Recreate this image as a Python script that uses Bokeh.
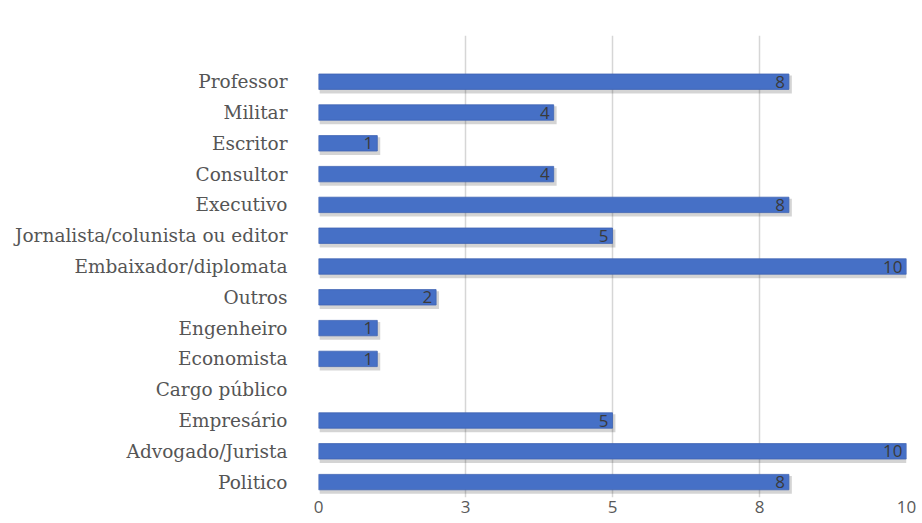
from bokeh.plotting import figure
from bokeh.models import ColumnDataSource, FactorRange, FixedTicker
from bokeh.transform import dodge
from bokeh.core.properties import value
from bokeh.embed import file_html
from bokeh.resources import INLINE

categories = ["Professor", "Militar", "Escritor", "Consultor", "Executivo",
              "Jornalista/colunista ou editor", "Embaixador/diplomata", "Outros",
              "Engenheiro", "Economista", "Cargo público", "Empresário",
              "Advogado/Jurista", "Politico"]
values = [8, 4, 1, 4, 8, 5, 10, 2, 1, 1, 0, 5, 10, 8]
tick_values = [0, 2.5, 5, 7.5, 10]
tick_labels = ["0", "3", "5", "8", "10"]

labels = [str(v) if v > 0 else "" for v in values]
src = ColumnDataSource(dict(cat=[c for c, v in zip(categories, values) if v > 0],
                            val=[v for v in values if v > 0],
                            lab=[l for l in labels if l]))

factors = list(reversed(categories)) + [" "]

p = figure(width=920, height=522, y_range=FactorRange(factors=factors),
           x_range=(0, 10), output_backend="svg", toolbar_location=None,
           min_border_left=318, min_border_right=14, min_border_top=35,
           min_border_bottom=25)
p.outline_line_color = None
p.background_fill_color = "white"

# shadow
p.hbar(y=dodge("cat", -0.09, range=p.y_range), right=dodge("val", 0.05, range=p.x_range),
       left=0.02, height=0.58, source=src, fill_color="#000000", fill_alpha=0.17,
       line_color=None)
p.hbar(y="cat", right="val", left=0, height=0.5, source=src,
       fill_color="#4670c6", line_color="#3f63b3", line_width=0.8)

p.text(x="val", y="cat", text="lab", source=src, text_align="right",
       text_baseline="middle", x_offset=-4, text_font=value("Open Sans"),
       text_font_size="17px", text_color="#3a3a3a")

p.xaxis.ticker = FixedTicker(ticks=tick_values)
p.xaxis.major_label_overrides = {t: l for t, l in zip(tick_values, tick_labels)}
p.xaxis.axis_line_color = None
p.xaxis.major_tick_line_color = None
p.xaxis.minor_tick_line_color = None
p.xaxis.major_tick_out = 0
p.xaxis.major_tick_in = 0
p.xaxis.major_label_standoff = 3
p.xaxis.major_label_text_font = "Open Sans"
p.xaxis.major_label_text_font_size = "17px"
p.xaxis.major_label_text_color = "#595959"

p.yaxis.axis_line_color = None
p.yaxis.major_tick_line_color = None
p.yaxis.minor_tick_line_color = None
p.yaxis.major_tick_out = 0
p.yaxis.major_tick_in = 0
p.yaxis.major_label_standoff = 31
p.yaxis.major_label_text_font = "DejaVu Serif"
p.yaxis.major_label_text_font_size = "18.5px"
p.yaxis.major_label_text_color = "#555555"

p.xgrid.grid_line_color = "#d6d6d6"
p.xgrid.grid_line_width = 1.5
p.ygrid.grid_line_color = None

open("out.html", "w").write(file_html(p, INLINE))
